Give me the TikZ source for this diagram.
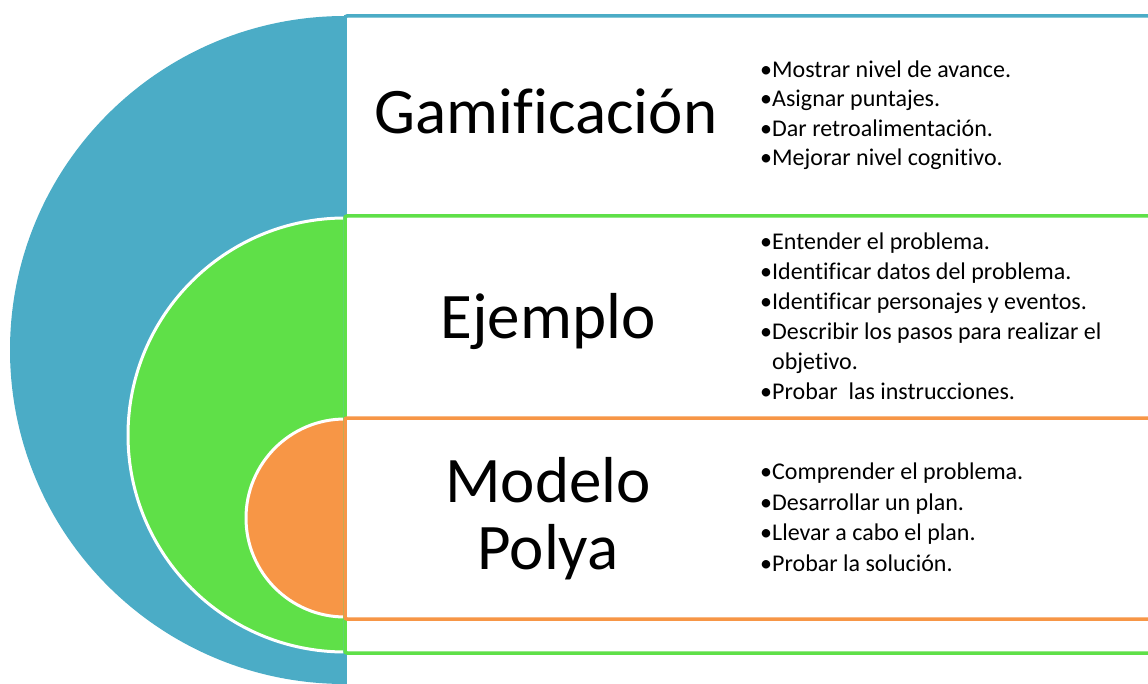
\documentclass[tikz,border=0pt]{standalone}
\usepackage{fontspec}
\setmainfont{Carlito}[Ligatures=NoCommon]
\definecolor{cblue}{HTML}{4BACC6}
\definecolor{cgreen}{HTML}{5FE048}
\definecolor{corange}{HTML}{F79646}
\newcommand\bul{\makebox[12pt][l]{•}}
\begin{document}
\begin{tikzpicture}[x=1pt,y=-1pt,
  panel/.style={fill=white,line width=3.5pt,rounded corners=2pt},
  half/.style={draw=white,line width=3pt},
  big/.style={font=\fontsize{65}{70}\selectfont,anchor=base,inner sep=0pt},
  item/.style={font=\fontsize{24}{28}\selectfont,anchor=base west,inner sep=0pt}]
\useasboundingbox (0,0) rectangle (1148,684);
\clip (0,0) rectangle (1148,684);
% half discs
\fill[cblue] (345,684) arc[start angle=90,end angle=270,x radius=335,y radius=334] -- cycle;
\filldraw[half,fill=cgreen] (345,652) arc[start angle=90,end angle=270,radius=217] -- cycle;
\filldraw[half,fill=corange] (345,617) arc[start angle=90,end angle=270,radius=99] -- cycle;
% panels
\draw[panel,draw=cblue] (345,16) rectangle (1170,700);
\draw[panel,draw=cgreen] (345,216) rectangle (1170,653);
\draw[panel,draw=corange] (345,418) rectangle (1170,619);
% titles
\node[big] (gam) at (546,134) {Gamificación};
\node[big] (ej) at (548,338) {Ejemplo};
\node[big] (mod) at (548,502) {Modelo};
\node[big] (pol) at (548,569) {Polya};
% lists
\node[item] (g1) at (760,77.5) {\bul Mostrar nivel de avance.};
\node[item] (g2) at (760,107) {\bul Asignar puntajes.};
\node[item] (g3) at (760,136.5) {\bul Dar retroalimentación.};
\node[item] (g4) at (760,166) {\bul Mejorar nivel cognitivo.};
\node[item] (e1) at (760,250) {\bul Entender el problema.};
\node[item] (e2) at (760,279.8) {\bul Identificar datos del problema.};
\node[item] (e3) at (760,309.6) {\bul Identificar personajes y eventos.};
\node[item] (e4) at (760,339.4) {\bul Describir los pasos para realizar el};
\node[item] (e5) at (760,369.2) {\hspace*{12pt}objetivo.};
\node[item] (e6) at (760,399) {\bul Probar~ las instrucciones.};
\node[item] (m1) at (760,479) {\bul Comprender el problema.};
\node[item] (m2) at (760,510) {\bul Desarrollar un plan.};
\node[item] (m3) at (760,540.5) {\bul Llevar a cabo el plan.};
\node[item] (m4) at (760,571) {\bul Probar la solución.};
\end{tikzpicture}
\end{document}
